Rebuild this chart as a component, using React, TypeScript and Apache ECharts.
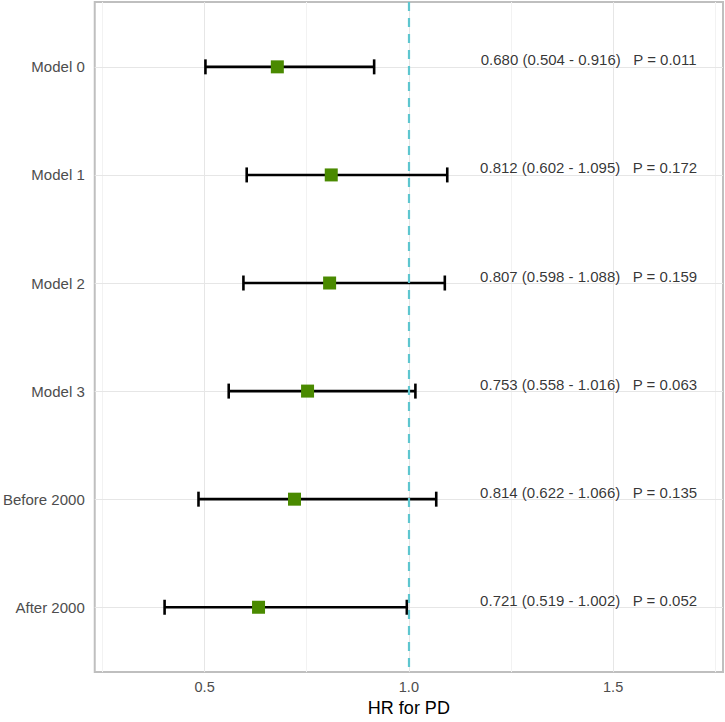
import React, { useEffect, useRef } from "react";
import * as echarts from "echarts";

// Row names (top to bottom)
const categories = ["Model 0", "Model 1", "Model 2", "Model 3", "Before 2000", "After 2000"];
// Plotted values
const hrPoint = [0.678, 0.81, 0.806, 0.752, 0.72, 0.632];
const ciLow = [0.502, 0.603, 0.595, 0.559, 0.485, 0.402];
const ciHigh = [0.915, 1.094, 1.088, 1.016, 1.067, 0.995];
// Annotation texts
const hrText = ["0.680", "0.812", "0.807", "0.753", "0.814", "0.721"];
const lowText = ["0.504", "0.602", "0.598", "0.558", "0.622", "0.519"];
const highText = ["0.916", "1.095", "1.088", "1.016", "1.066", "1.002"];
const pText = ["0.011", "0.172", "0.159", "0.063", "0.135", "0.052"];
// Axis ticks
const xTicks = [0.5, 1.0, 1.5];
const xMinorTicks = [0.25, 0.75, 1.25, 1.75];
const refLine = 1.0;
const textX = 1.44;
const xTitle = "HR for PD";

const FONT = "'Liberation Sans', Arial, Helvetica, sans-serif";

export default function App() {
  const ref = useRef<HTMLDivElement>(null);
  useEffect(() => {
    document.body.style.margin = "0";
    const chart = echarts.init(ref.current!, null, { renderer: "svg" });
    const rowsY = categories.map((_, i) => i + 1);
    const gridLines: any[] = [];
    xMinorTicks.forEach((v) =>
      gridLines.push({ xAxis: v, lineStyle: { color: "#f2f2f2", width: 1, type: "solid" } })
    );
    xTicks.forEach((v) =>
      gridLines.push({ xAxis: v, lineStyle: { color: "#e6e6e6", width: 1, type: "solid" } })
    );
    rowsY.forEach((v) =>
      gridLines.push({ yAxis: v, lineStyle: { color: "#e6e6e6", width: 1, type: "solid" } })
    );
    const option: any = {
      animation: false,
      textStyle: { fontFamily: FONT },
      grid: {
        left: 93,
        right: 2,
        top: 2,
        bottom: 43,
        show: true,
        borderColor: "#bfbfbf",
        borderWidth: 2,
        backgroundColor: "transparent",
      },
      xAxis: {
        type: "value",
        min: 0.231,
        max: 1.769,
        axisLine: { show: false },
        axisTick: { show: false },
        splitLine: { show: false },
        axisLabel: {
          customValues: xTicks,
          formatter: (v: number) => v.toFixed(1),
          color: "#4d4d4d",
          fontSize: 14.5,
          margin: 7,
          fontFamily: FONT,
        },
        name: xTitle,
        nameLocation: "middle",
        nameGap: 23,
        nameTextStyle: { color: "#000", fontSize: 18, fontFamily: FONT },
      },
      yAxis: {
        type: "value",
        min: 0.4,
        max: 6.6,
        inverse: true,
        axisLine: { show: false },
        axisTick: { show: false },
        splitLine: { show: false },
        axisLabel: {
          customValues: rowsY,
          formatter: (v: number) => categories[Math.round(v) - 1] ?? "",
          color: "#4d4d4d",
          fontSize: 15,
          margin: 10,
          fontFamily: FONT,
        },
      },
      series: [
        {
          type: "line",
          z: 0,
          data: [],
          silent: true,
          markLine: {
            z: 0,
            silent: true,
            symbol: "none",
            label: { show: false },
            data: gridLines,
          },
        },
        {
          type: "scatter",
          z: 2,
          symbolSize: 0,
          data: categories.map((_, i) => [
            textX,
            i + 1,
            `${hrText[i]} (${lowText[i]} - ${highText[i]})   P = ${pText[i]}`,
          ]),
          label: {
            show: true,
            position: "inside",
            offset: [0, -7],
            formatter: (p: any) => p.data[2],
            color: "#000",
            fontSize: 15,
            fontFamily: FONT,
          },
        },
        {
          type: "custom",
          z: 3,
          encode: { x: [0, 1], y: 2 },
          data: categories.map((_, i) => [ciLow[i], ciHigh[i], i + 1]),
          renderItem: (params: any, api: any) => {
            const y = api.value(2);
            const p1 = api.coord([api.value(0), y]);
            const p2 = api.coord([api.value(1), y]);
            const h = 7.5;
            const style = { stroke: "#000", lineWidth: 2.6 };
            return {
              type: "group",
              children: [
                { type: "line", shape: { x1: p1[0], y1: p1[1], x2: p2[0], y2: p2[1] }, style },
                { type: "line", shape: { x1: p1[0], y1: p1[1] - h, x2: p1[0], y2: p1[1] + h }, style },
                { type: "line", shape: { x1: p2[0], y1: p2[1] - h, x2: p2[0], y2: p2[1] + h }, style },
              ],
            };
          },
        },
        {
          type: "scatter",
          z: 4,
          symbol: "rect",
          symbolSize: 13,
          itemStyle: { color: "#4a8a00", opacity: 1 },
          data: categories.map((_, i) => [hrPoint[i], i + 1]),
          markLine: {
            z: 10,
            silent: true,
            symbol: "none",
            label: { show: false },
            lineStyle: { color: "#5ec6cf", width: 2.2, type: [9, 7] },
            data: [{ xAxis: refLine }],
          },
        },
      ],
    };
    chart.setOption(option);
    return () => chart.dispose();
  }, []);
  return <div ref={ref} style={{ width: 725, height: 722 }} />;
}
